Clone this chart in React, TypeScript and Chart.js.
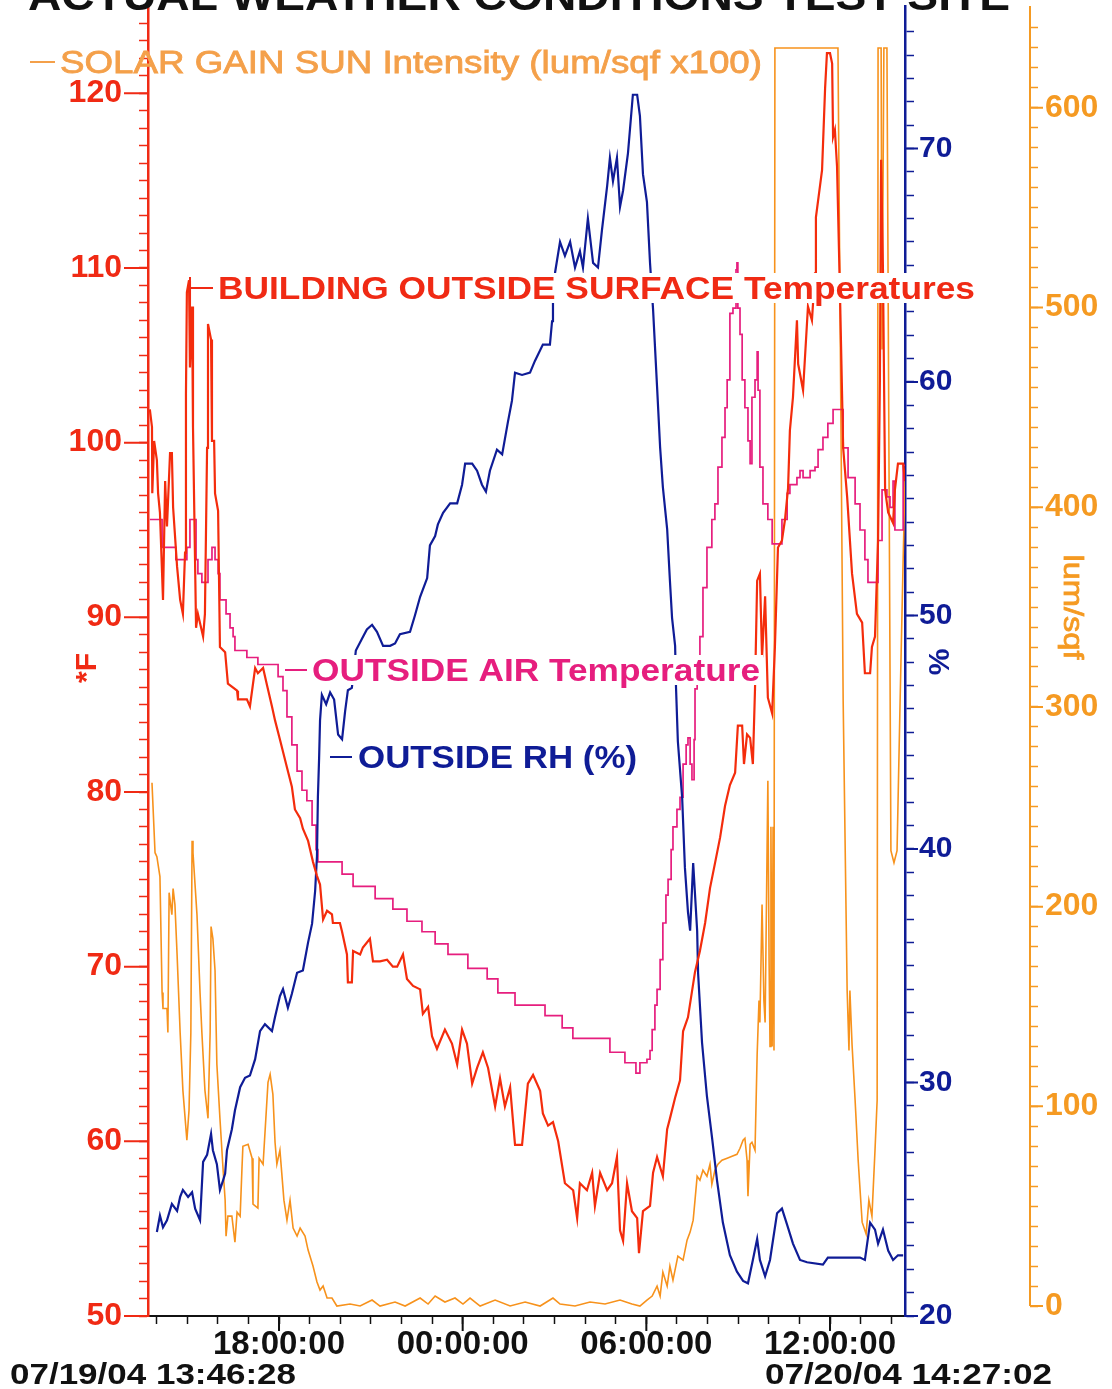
import React, { useEffect, useRef } from 'react';
import { Chart, registerables } from 'chart.js';

Chart.register(...registerables);

const W = 1112;
const H = 1389;
const FONT = '"Liberation Sans", Arial, Helvetica, sans-serif';

const RED = '#f02a14';
const RED_LINE = '#f42c0c';
const PINK = '#e61e7e';
const NAVY = '#0f1c96';
const ORANGE_LINE = '#f7921c';
const ORANGE_AXIS = '#f59a22';
const ORANGE_TEXT = '#f4a04a';

// Time axis: hours since 07/19/04 00:00:00
const TIME_MIN = 13.72;
const TIME_MAX = 38.45;
const timeTickHours = [18, 24, 30, 36];
const timeTickLabels = ['18:00:00', '00:00:00', '06:00:00', '12:00:00'];
const startStamp = '07/19/04 13:46:28';
const endStamp = '07/20/04 14:27:02';
const chartTitle = 'ACTUAL WEATHER CONDITIONS TEST SITE';

// Axis tick labels
const fMajor = [50, 60, 70, 80, 90, 100, 110, 120];
const rhMajor = [20, 30, 40, 50, 60, 70];
const lumMajor = [0, 100, 200, 300, 400, 500, 600];

// BUILDING OUTSIDE SURFACE Temperatures (*F)
const surfaceHours = [
  13.78, 13.85, 13.86, 13.92, 14.01, 14.05, 14.11, 14.21, 14.28, 14.34,
  14.44, 14.50, 14.54, 14.67, 14.77, 14.86, 14.93, 14.96, 14.99, 15.06,
  15.09, 15.16, 15.19, 15.29, 15.35, 15.52, 15.58, 15.65, 15.68, 15.78,
  15.81, 15.88, 15.91, 16.01, 16.07, 16.24, 16.33, 16.63, 16.66, 16.95,
  17.05, 17.22, 17.31, 17.48, 17.61, 17.77, 17.87, 18.03, 18.26, 18.42,
  18.52, 18.69, 18.78, 18.95, 19.11, 19.24, 19.34, 19.44, 19.57, 19.73,
  19.76, 19.99, 20.06, 20.22, 20.25, 20.38, 20.42, 20.65, 20.74, 20.97,
  21.07, 21.30, 21.53, 21.72, 21.86, 22.05, 22.18, 22.38, 22.61, 22.70,
  22.87, 23.00, 23.16, 23.42, 23.65, 23.82, 23.98, 24.14, 24.31, 24.47,
  24.66, 24.83, 25.06, 25.22, 25.38, 25.55, 25.71, 25.94, 26.13, 26.30,
  26.53, 26.62, 26.79, 26.95, 27.12, 27.34, 27.61, 27.74, 27.83, 28.06,
  28.23, 28.32, 28.49, 28.72, 28.88, 29.04, 29.14, 29.24, 29.37, 29.53,
  29.70, 29.76, 29.89, 30.12, 30.22, 30.35, 30.54, 30.68, 30.77, 30.94,
  31.10, 31.20, 31.36, 31.59, 31.75, 31.92, 32.08, 32.24, 32.41, 32.57,
  32.73, 32.90, 32.99, 33.13, 33.19, 33.29, 33.39, 33.48, 33.55, 33.62,
  33.71, 33.78, 33.88, 33.97, 34.11, 34.20, 34.30, 34.43, 34.53, 34.63,
  34.69, 34.79, 34.92, 34.96, 35.12, 35.28, 35.41, 35.51, 35.54, 35.74,
  35.84, 35.90, 36.00, 36.07, 36.10, 36.16, 36.23, 36.33, 36.43, 36.56,
  36.72, 36.88, 37.05, 37.14, 37.31, 37.37, 37.47, 37.57, 37.63, 37.67,
  37.73, 37.80, 37.90, 38.06, 38.12, 38.22, 38.39, 38.45,
];
const surfaceTempF = [
  101.9, 100.9, 97.1, 100.1, 99.0, 97.1, 96.0, 91.0, 97.8, 95.2,
  99.4, 99.4, 96.3, 92.9, 91.0, 90.2, 93.7, 102.8, 108.6, 109.3,
  104.3, 107.8, 100.9, 89.4, 90.2, 88.9, 90.2, 99.7, 106.8, 105.9,
  100.1, 100.1, 97.1, 96.1, 88.3, 88.0, 86.2, 85.8, 85.3, 85.3,
  84.9, 87.1, 86.8, 87.1, 86.1, 84.9, 84.1, 83.0, 81.4, 80.3,
  79.0, 78.5, 77.9, 77.2, 76.0, 75.2, 74.7, 72.7, 73.2, 73.0,
  72.5, 72.5, 72.0, 70.7, 69.1, 69.1, 70.9, 70.7, 71.1, 71.6,
  70.3, 70.3, 70.4, 70.0, 70.0, 70.7, 69.3, 68.9, 68.7, 67.3,
  67.7, 66.0, 65.3, 66.4, 65.6, 64.4, 66.4, 65.6, 63.3, 64.2,
  65.1, 64.2, 62.0, 63.6, 62.0, 63.1, 59.8, 59.8, 63.3, 63.8,
  62.9, 61.6, 60.9, 61.1, 60.0, 57.6, 57.2, 55.6, 57.6, 57.2,
  58.2, 56.3, 58.2, 57.2, 57.6, 59.1, 54.9, 54.3, 57.6, 56.0,
  55.6, 53.6, 56.0, 56.3, 58.2, 59.1, 58.0, 60.7, 61.3, 62.5,
  63.5, 66.3, 67.1, 69.7, 70.9, 72.5, 74.5, 75.9, 77.4, 79.2,
  80.4, 81.1, 83.8, 83.8, 81.6, 83.3, 83.1, 81.6, 85.9, 92.1,
  92.5, 87.7, 91.2, 85.4, 84.5, 88.3, 94.0, 94.4, 95.6, 97.4,
  100.7, 102.6, 107.0, 104.5, 103.0, 107.8, 107.0, 109.7, 112.9, 115.6,
  120.3, 122.3, 122.3, 121.7, 117.5, 117.9, 115.8, 108.2, 99.7, 96.9,
  92.5, 90.2, 89.7, 86.8, 86.8, 88.3, 88.9, 94.4, 103.6, 116.2,
  109.9, 97.3, 96.0, 95.4, 97.3, 98.8, 98.8, 97.8,
];

// OUTSIDE AIR Temperature (*F), stepped record
const airHours = [
  13.78, 14.18, 14.63, 14.99, 15.09, 15.29, 15.35, 15.48, 15.68, 15.81,
  15.91, 16.01, 16.07, 16.27, 16.40, 16.50, 16.56, 16.95, 17.31, 17.97,
  18.13, 18.26, 18.42, 18.59, 18.75, 18.91, 19.08, 19.21, 19.27, 20.06,
  20.42, 21.14, 21.72, 22.18, 22.67, 23.10, 23.52, 24.17, 24.80, 25.15,
  25.71, 26.69, 27.25, 27.60, 28.81, 29.30, 29.66, 29.79, 30.02, 30.12,
  30.19, 30.28, 30.35, 30.45, 30.54, 30.64, 30.71, 30.81, 30.87, 31.00,
  31.10, 31.20, 31.30, 31.36, 31.43, 31.49, 31.56, 31.59, 31.66, 31.75,
  31.85, 31.98, 32.14, 32.24, 32.34, 32.47, 32.57, 32.64, 32.73, 32.83,
  32.93, 32.96, 32.99, 33.06, 33.13, 33.22, 33.32, 33.39, 33.45, 33.55,
  33.62, 33.65, 33.71, 33.81, 33.97, 34.11, 34.43, 34.60, 34.69, 34.92,
  35.02, 35.12, 35.35, 35.51, 35.61, 35.77, 35.93, 36.10, 36.33, 36.43,
  36.59, 36.82, 36.98, 37.14, 37.24, 37.57, 37.70, 37.86, 37.96, 38.06,
  38.12, 38.29, 38.39, 38.45,
];
const airTempF = [
  95.6, 94.0, 93.3, 94.0, 95.6, 93.3, 92.5, 92.0, 93.3, 94.0,
  93.3, 92.5, 91.0, 90.2, 89.4, 88.9, 88.1, 87.7, 87.3, 86.6,
  85.8, 84.3, 82.7, 81.2, 80.1, 79.5, 78.1, 76.7, 76.0, 75.3,
  74.6, 73.9, 73.3, 72.6, 72.0, 71.3, 70.7, 69.9, 69.3, 68.5,
  67.8, 67.2, 66.5, 65.9, 65.1, 64.5, 63.9, 64.5, 64.7, 65.2,
  66.4, 67.8, 68.7, 70.4, 72.5, 74.1, 75.0, 76.7, 78.0, 79.0,
  79.7, 81.6, 82.7, 83.1, 81.6, 80.7, 83.0, 85.9, 87.5, 88.9,
  91.7, 94.0, 95.6, 96.5, 98.6, 100.3, 102.0, 103.6, 107.4, 107.7,
  109.9, 110.3, 107.7, 106.2, 103.6, 102.0, 100.1, 98.8, 102.6, 103.6,
  105.2, 103.0, 98.6, 96.5, 95.6, 94.2, 95.6, 97.1, 97.6, 98.0,
  98.4, 98.0, 98.4, 98.6, 99.6, 100.3, 101.1, 101.9, 101.9, 99.7,
  98.0, 96.5, 95.0, 93.3, 92.0, 94.4, 97.3, 96.9, 96.3, 97.8,
  95.0, 95.0, 98.7, 98.7,
];

// OUTSIDE RH (%)
const rhHours = [
  14.01, 14.11, 14.21, 14.34, 14.50, 14.67, 14.77, 14.86, 15.03, 15.16,
  15.26, 15.42, 15.52, 15.65, 15.78, 15.84, 15.97, 16.07, 16.17, 16.24,
  16.30, 16.46, 16.56, 16.73, 16.89, 17.05, 17.22, 17.38, 17.54, 17.77,
  17.87, 18.03, 18.13, 18.29, 18.42, 18.59, 18.78, 18.95, 19.08, 19.18,
  19.24, 19.27, 19.31, 19.34, 19.40, 19.54, 19.67, 19.80, 19.93, 20.06,
  20.16, 20.25, 20.38, 20.51, 20.71, 20.87, 21.04, 21.20, 21.40, 21.63,
  21.79, 21.95, 22.28, 22.44, 22.61, 22.84, 22.93, 23.10, 23.19, 23.36,
  23.59, 23.82, 23.98, 24.08, 24.31, 24.47, 24.63, 24.76, 24.89, 25.12,
  25.29, 25.48, 25.61, 25.71, 25.94, 26.20, 26.36, 26.62, 26.85, 26.92,
  26.95, 27.02, 27.18, 27.34, 27.51, 27.67, 27.83, 27.93, 28.09, 28.26,
  28.42, 28.55, 28.72, 28.81, 28.91, 29.04, 29.14, 29.24, 29.40, 29.56,
  29.70, 29.79, 29.89, 30.02, 30.12, 30.22, 30.35, 30.45, 30.54, 30.68,
  30.77, 30.84, 30.94, 30.97, 31.03, 31.17, 31.26, 31.36, 31.43, 31.53,
  31.66, 31.69, 31.82, 31.98, 32.15, 32.31, 32.50, 32.73, 32.96, 33.16,
  33.32, 33.48, 33.62, 33.71, 33.88, 34.04, 34.27, 34.43, 34.60, 34.79,
  35.02, 35.25, 35.77, 35.93, 36.98, 37.14, 37.31, 37.47, 37.57, 37.73,
  37.90, 38.06, 38.22, 38.39,
];
const rhPercent = [
  23.6, 24.3, 23.8, 24.1, 24.8, 24.5, 25.1, 25.4, 25.1, 25.3,
  24.6, 24.1, 26.6, 26.9, 27.8, 27.1, 26.5, 25.4, 25.8, 26.1,
  27.1, 28.0, 28.8, 29.8, 30.2, 30.3, 31.0, 32.2, 32.5, 32.2,
  32.8, 33.7, 34.0, 33.2, 33.8, 34.7, 34.8, 36.0, 36.8, 38.2,
  39.7, 42.2, 43.9, 45.5, 46.6, 46.2, 46.7, 46.4, 44.9, 44.7,
  45.9, 46.8, 46.9, 48.5, 49.0, 49.4, 49.6, 49.3, 48.7, 48.7,
  48.8, 49.2, 49.3, 50.0, 50.8, 51.6, 53.0, 53.4, 53.9, 54.4,
  54.8, 54.8, 55.6, 56.5, 56.5, 56.2, 55.6, 55.3, 56.2, 57.1,
  56.9, 58.3, 59.2, 60.4, 60.3, 60.4, 60.9, 61.6, 61.6, 62.6,
  63.4, 64.7, 66.0, 65.4, 66.0, 64.9, 65.6, 64.9, 67.0, 65.1,
  64.9, 66.5, 68.4, 69.6, 68.6, 69.6, 67.5, 68.2, 69.8, 72.3,
  72.3, 71.4, 68.9, 67.7, 65.1, 63.1, 59.8, 57.2, 55.5, 53.7,
  51.5, 49.9, 48.7, 46.9, 44.6, 42.2, 39.2, 37.3, 36.5, 39.4,
  36.5, 34.7, 31.7, 29.4, 27.6, 25.8, 24.0, 22.6, 21.9, 21.5,
  21.4, 22.4, 23.3, 22.4, 21.7, 22.4, 24.4, 24.6, 23.9, 23.1,
  22.4, 22.3, 22.2, 22.5, 22.5, 22.4, 24.0, 23.7, 23.1, 23.7,
  22.8, 22.4, 22.6, 22.6,
];

// SOLAR GAIN SUN Intensity (lum/sqf)
const solarHours = [
  13.85, 13.95, 14.01, 14.11, 14.18, 14.21, 14.34, 14.37, 14.41, 14.50,
  14.54, 14.60, 14.67, 14.77, 14.86, 14.99, 15.06, 15.12, 15.16, 15.19,
  15.32, 15.42, 15.48, 15.58, 15.68, 15.75, 15.78, 15.84, 15.91, 15.97,
  16.07, 16.17, 16.24, 16.27, 16.33, 16.46, 16.56, 16.63, 16.73, 16.79,
  16.82, 16.99, 17.12, 17.15, 17.31, 17.35, 17.48, 17.57, 17.64, 17.71,
  17.80, 17.87, 17.93, 18.03, 18.16, 18.26, 18.36, 18.46, 18.59, 18.69,
  18.85, 18.95, 19.11, 19.24, 19.34, 19.44, 19.57, 19.73, 19.89, 20.32,
  20.65, 21.04, 21.30, 21.79, 22.12, 22.61, 22.87, 23.10, 23.42, 23.75,
  24.01, 24.24, 24.57, 25.06, 25.55, 26.04, 26.53, 26.95, 27.18, 27.67,
  28.16, 28.65, 29.14, 29.53, 29.79, 30.02, 30.19, 30.35, 30.45, 30.54,
  30.68, 30.77, 30.87, 31.03, 31.20, 31.33, 31.43, 31.53, 31.59, 31.66,
  31.75, 31.85, 31.98, 32.08, 32.14, 32.24, 32.34, 32.47, 32.64, 32.80,
  32.96, 33.06, 33.16, 33.22, 33.29, 33.32, 33.39, 33.45, 33.55, 33.62,
  33.68, 33.71, 33.78, 33.84, 33.88, 33.94, 33.97, 34.01, 34.04, 34.07,
  34.11, 34.14, 34.17, 34.20, 36.26, 36.43, 36.56, 36.62, 36.65, 36.72,
  36.82, 36.92, 37.05, 37.18, 37.27, 37.37, 37.47, 37.54, 37.57, 37.67,
  37.70, 37.76, 37.86, 37.99, 38.09, 38.19, 38.29, 38.39, 38.45,
];
const solarLum = [
  262, 227, 225, 215, 157, 149, 149, 137, 207, 196,
  209, 201, 176, 137, 108, 83, 98, 137, 233, 227,
  196, 157, 137, 108, 94, 137, 190, 184, 168, 121,
  94, 69, 53, 35, 45, 45, 32, 47, 45, 69,
  80, 81, 74, 51, 49, 74, 71, 94, 112, 116,
  106, 82, 71, 78, 53, 43, 53, 39, 35, 39,
  35, 28, 20, 12, 8, 10, 4, 4, 0, 1,
  0, 3, 0, 2, 0, 4, 1, 5, 2, 4,
  1, 4, 0, 3, 0, 2, 0, 4, 1, 0,
  2, 1, 3, 1, 0, 3, 5, 10, 5, 17,
  10, 20, 13, 25, 23, 33, 37, 43, 53, 65,
  63, 68, 65, 71, 61, 68, 71, 73, 74, 75,
  76, 79, 83, 84, 73, 55, 81, 82, 78, 126,
  153, 142, 201, 153, 142, 223, 263, 173, 130, 240,
  130, 240, 128, 630, 630, 303, 158, 128, 158, 131,
  103, 73, 42, 36, 53, 45, 78, 103, 630, 630,
  479, 630, 630, 228, 222, 228, 303, 374, 414,
];

// Series annotation layout (pixel geometry of the in-plot captions)
const seriesNotes = [
  { text: 'SOLAR GAIN SUN Intensity (lum/sqf x100)', color: ORANGE_TEXT, weight: 'normal', stroke: 0.8, dash: [30, 55], x: 60, width: 702, cy: 62, bar: false, box: false },
  { text: 'BUILDING OUTSIDE SURFACE Temperatures', color: RED, weight: 'bold', stroke: 0, dash: [190, 213], x: 218, width: 757, cy: 288, bar: true, box: true },
  { text: 'OUTSIDE AIR Temperature', color: PINK, weight: 'bold', stroke: 0, dash: [285, 307], x: 312, width: 448, cy: 670, bar: false, box: true },
  { text: 'OUTSIDE RH (%)', color: NAVY, weight: 'bold', stroke: 0, dash: [330, 352], x: 358, width: 279, cy: 757, bar: false, box: true },
];

function zip(xs: number[], ys: number[]) {
  const n = Math.min(xs.length, ys.length);
  const out: { x: number; y: number }[] = [];
  for (let i = 0; i < n; i++) out.push({ x: xs[i], y: ys[i] });
  return out;
}

function fitText(ctx: any, text: string, x: number, baseline: number, width: number, size: number, color: string, weight = 'bold', stroke = 0) {
  ctx.save();
  ctx.font = `${weight} ${size}px ${FONT}`;
  const w = ctx.measureText(text).width || 1;
  ctx.translate(x, baseline);
  ctx.scale(width / w, 1);
  ctx.fillStyle = color;
  ctx.textAlign = 'left';
  ctx.textBaseline = 'alphabetic';
  ctx.fillText(text, 0, 0);
  if (stroke > 0) {
    ctx.strokeStyle = color;
    ctx.lineWidth = stroke;
    ctx.strokeText(text, 0, 0);
  }
  ctx.restore();
}

function rotatedText(ctx: any, text: string, cx: number, cy: number, angle: number, size: number, color: string, weight: string, width?: number, stroke = 0) {
  ctx.save();
  ctx.translate(cx, cy);
  ctx.rotate(angle);
  ctx.font = `${weight} ${size}px ${FONT}`;
  const w = ctx.measureText(text).width || 1;
  if (width) ctx.scale(width / w, 1);
  ctx.fillStyle = color;
  ctx.textAlign = 'center';
  ctx.textBaseline = 'middle';
  ctx.fillText(text, 0, 0);
  if (stroke > 0) {
    ctx.strokeStyle = color;
    ctx.lineWidth = stroke;
    ctx.strokeText(text, 0, 0);
  }
  ctx.restore();
}

const overlayPlugin = {
  id: 'weatherOverlay',
  beforeDraw(chart: any) {
    const ctx = chart.ctx;
    ctx.save();
    ctx.fillStyle = '#ffffff';
    ctx.fillRect(0, 0, chart.width, chart.height);
    ctx.restore();
  },
  afterDatasetsDraw(chart: any) {
    const ctx = chart.ctx;
    for (const n of seriesNotes) {
      const cap = 0.716 * 31;
      if (n.box) {
        ctx.save();
        ctx.fillStyle = '#ffffff';
        ctx.fillRect(n.x - 3, n.cy - 15, n.width + 6, 30);
        ctx.restore();
      }
      ctx.save();
      ctx.strokeStyle = n.color;
      ctx.lineWidth = 2;
      ctx.beginPath();
      ctx.moveTo(n.dash[0], n.cy);
      ctx.lineTo(n.dash[1], n.cy);
      if (n.bar) {
        ctx.moveTo(n.dash[0], n.cy - 11);
        ctx.lineTo(n.dash[0], n.cy + 12);
      }
      ctx.stroke();
      ctx.restore();
      fitText(ctx, n.text, n.x, n.cy + cap / 2, n.width, 31, n.color, n.weight, n.stroke);
    }
  },
  afterDraw(chart: any) {
    const ctx = chart.ctx;
    const { left, right, top, bottom } = chart.chartArea;
    const sx = chart.scales.x;
    const sF = chart.scales.yF;
    const sRH = chart.scales.yRH;
    const sL = chart.scales.yL;

    ctx.save();
    // lum/sqf axis line ends at its zero
    ctx.strokeStyle = ORANGE_AXIS;
    ctx.lineWidth = 2;
    ctx.beginPath();
    ctx.moveTo(sL.left, top);
    ctx.lineTo(sL.left, sL.getPixelForValue(0));
    ctx.stroke();

    ctx.strokeStyle = RED;
    ctx.beginPath();
    for (const v of fMajor) {
      const y = sF.getPixelForValue(v);
      ctx.moveTo(left - 24, y);
      ctx.lineTo(left, y);
    }
    ctx.stroke();
    ctx.strokeStyle = NAVY;
    ctx.beginPath();
    for (const v of rhMajor) {
      const y = sRH.getPixelForValue(v);
      ctx.moveTo(right, y);
      ctx.lineTo(right + 13, y);
    }
    ctx.stroke();
    ctx.strokeStyle = ORANGE_AXIS;
    ctx.beginPath();
    for (const v of lumMajor) {
      const y = sL.getPixelForValue(v);
      ctx.moveTo(sL.left, y);
      ctx.lineTo(sL.left + 13, y);
    }
    ctx.stroke();
    ctx.strokeStyle = '#111111';
    ctx.beginPath();
    for (const h of timeTickHours) {
      const x = sx.getPixelForValue(h);
      ctx.moveTo(x, bottom);
      ctx.lineTo(x, bottom + 15);
    }
    ctx.stroke();
    ctx.restore();

    fitText(ctx, chartTitle, 28, 10, 982, 42, '#111111', 'bold');

    const capD = 0.716 * 30;
    fitText(ctx, startStamp, 10, 1373 + capD / 2, 286, 30, '#111111', 'bold');
    fitText(ctx, endStamp, 765, 1373 + capD / 2, 287, 30, '#111111', 'bold');

    rotatedText(ctx, '*F', 88, 668, -Math.PI / 2, 30, RED, 'bold');
    rotatedText(ctx, '%', 941, 662, -Math.PI / 2, 30, NAVY, 'bold');
    rotatedText(ctx, 'lum/sqf', 1072, 607, Math.PI / 2, 28, ORANGE_AXIS, 'normal', 105, 0.8);
  },
};

function roundTick(v: any) {
  return Math.round(Number(v) * 1000) / 1000;
}

function lockPadding(s: any) {
  s.paddingTop = 0;
  s.paddingBottom = 0;
  s.paddingLeft = 0;
  s.paddingRight = 0;
}

export default function App() {
  const ref = useRef<HTMLCanvasElement | null>(null);

  useEffect(() => {
    document.body.style.margin = '0';
    const canvas = ref.current;
    if (!canvas) return;
    const ctx = canvas.getContext('2d');
    if (!ctx) return;

    const chart = new Chart(ctx, {
      type: 'line',
      data: {
        datasets: [
          {
            label: 'BUILDING OUTSIDE SURFACE Temperatures',
            data: zip(surfaceHours, surfaceTempF),
            yAxisID: 'yF',
            borderColor: RED_LINE,
            borderWidth: 2.2,
            pointRadius: 0,
            tension: 0,
            order: 1,
          },
          {
            label: 'OUTSIDE RH (%)',
            data: zip(rhHours, rhPercent),
            yAxisID: 'yRH',
            borderColor: NAVY,
            borderWidth: 2.2,
            pointRadius: 0,
            tension: 0,
            order: 2,
          },
          {
            label: 'OUTSIDE AIR Temperature',
            data: zip(airHours, airTempF),
            yAxisID: 'yF',
            borderColor: PINK,
            borderWidth: 1.7,
            pointRadius: 0,
            stepped: 'before',
            order: 3,
          },
          {
            label: 'SOLAR GAIN SUN Intensity (lum/sqf x100)',
            data: zip(solarHours, solarLum),
            yAxisID: 'yL',
            borderColor: ORANGE_LINE,
            borderWidth: 1.6,
            pointRadius: 0,
            tension: 0,
            order: 4,
          },
        ],
      } as any,
      options: {
        responsive: false,
        animation: false,
        devicePixelRatio: 1,
        events: [],
        layout: { padding: { top: 6, left: 0, right: 0, bottom: 0 } },
        plugins: {
          legend: { display: false },
          tooltip: { enabled: false },
          title: { display: false },
        },
        scales: {
          x: {
            type: 'linear',
            position: 'bottom',
            min: TIME_MIN,
            max: TIME_MAX,
            afterFit: (s: any) => { s.height = 73; lockPadding(s); },
            ticks: {
              stepSize: 1,
              autoSkip: false,
              includeBounds: false,
              maxRotation: 0,
              minRotation: 0,
              padding: 1,
              color: '#111111',
              font: { family: FONT, size: 33, weight: 'bold' },
              callback: (v: any) => {
                const n = roundTick(v);
                if (!Number.isInteger(n)) return null;
                const i = timeTickHours.indexOf(n);
                return i >= 0 ? timeTickLabels[i] : '';
              },
            },
            grid: { drawOnChartArea: false, tickLength: 8, tickColor: '#111111', tickWidth: 1.5 },
            border: { color: '#111111', width: 2 },
          },
          yF: {
            type: 'linear',
            position: 'left',
            min: 50,
            max: 125,
            afterFit: (s: any) => { s.width = 148; lockPadding(s); },
            ticks: {
              stepSize: 1,
              autoSkip: false,
              includeBounds: false,
              padding: 17,
              color: RED,
              font: { family: FONT, size: 32, weight: 'bold' },
              callback: (v: any) => {
                const n = roundTick(v);
                if (n > 124.5) return null;
                return fMajor.includes(n) ? String(n) : '';
              },
            },
            grid: { drawOnChartArea: false, tickLength: 9, tickColor: RED, tickWidth: 1.5 },
            border: { color: RED, width: 2.5 },
          },
          yRH: {
            type: 'linear',
            position: 'right',
            min: 20,
            max: 76.1,
            afterFit: (s: any) => { s.width = 125; lockPadding(s); },
            ticks: {
              stepSize: 1,
              autoSkip: false,
              includeBounds: false,
              padding: 5,
              color: NAVY,
              font: { family: FONT, size: 30, weight: 'bold' },
              callback: (v: any) => {
                const n = roundTick(v);
                if (n > 75.5) return null;
                return rhMajor.includes(n) ? String(n) : '';
              },
            },
            grid: { drawOnChartArea: false, tickLength: 9, tickColor: NAVY, tickWidth: 1.5 },
            border: { color: NAVY, width: 2.5 },
          },
          yL: {
            type: 'linear',
            position: 'right',
            min: -5,
            max: 651,
            afterFit: (s: any) => { s.width = 82; lockPadding(s); },
            ticks: {
              stepSize: 10,
              autoSkip: false,
              includeBounds: false,
              padding: 7,
              color: ORANGE_AXIS,
              font: { family: FONT, size: 32, weight: 'bold' },
              callback: (v: any) => {
                const n = roundTick(v);
                if (n < 0 || n > 645) return null;
                return lumMajor.includes(n) ? String(n) : '';
              },
            },
            grid: { drawOnChartArea: false, tickLength: 8, tickColor: ORANGE_AXIS, tickWidth: 1.5 },
            border: { display: false },
          },
        },
      } as any,
      plugins: [overlayPlugin],
    });

    return () => chart.destroy();
  }, []);

  return (
    <div style={{ width: W, height: H, position: 'relative', background: '#ffffff' }}>
      <canvas ref={ref} width={W} height={H} style={{ display: 'block', width: W, height: H }} />
    </div>
  );
}
